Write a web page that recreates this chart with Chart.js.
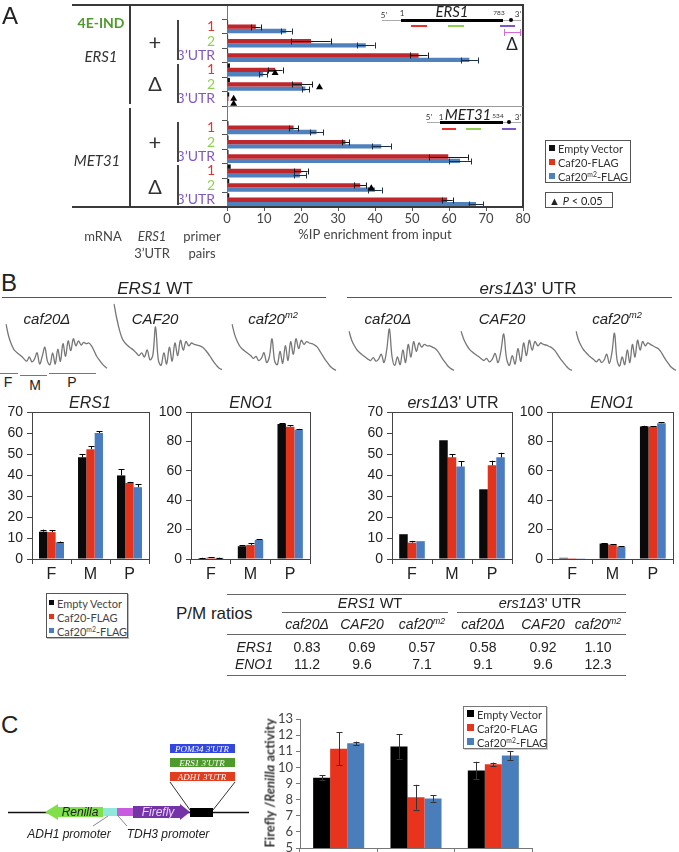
<!DOCTYPE html>
<html>
<head>
<meta charset="utf-8">
<script src="https://cdn.jsdelivr.net/npm/chart.js@4.4.1/dist/chart.umd.min.js"></script>
<style>
body { margin: 0; background: #fff; }
#page { position: relative; width: 679px; height: 852px; overflow: hidden; font-family: 'Liberation Sans', Arial, sans-serif; color: #222; }
#page canvas { position: absolute; }
.lbl { position: absolute; white-space: nowrap; line-height: 1; }
.ln { position: absolute; box-sizing: border-box; }
sup { font-size: 0.62em; line-height: 0; vertical-align: 0.55em; }
</style>
</head>
<body>
<div id="page"></div>
<script>
// ---- Panel A : %IP enrichment (horizontal bars) ----
const rowLabelsA = ['', '1', '2', '3’UTR', '1', '2', '3’UTR', '', '1', '2', '3’UTR', '1', '2', '3’UTR'];
const emptyVecA = [null, 0.3, 0.3, 0.3, 0.8, 0.8, 0.6, null, 0.4, 0.4, 0.4, 1.0, 0.6, 0.6];
const caf20A = [null, 7.8, 22.7, 51.8, 13.0, 20.3, 0.4, null, 18.0, 32.0, 59.8, 20.0, 36.0, 59.5];
const caf20ErrA = [null, 1.3, 5.3, 2.4, 2.0, 2.7, 0, null, 1.3, 1.0, 5.3, 1.8, 1.7, 1.5];
const caf20m2A = [null, 16.0, 37.5, 65.5, 9.8, 21.2, 0.3, null, 24.2, 41.7, 63.0, 19.7, 40.0, 67.3];
const caf20m2ErrA = [null, 1.5, 2.4, 2.3, 1.1, 1.0, 0, null, 1.8, 2.6, 3.0, 1.7, 1.8, 2.0];
const sigRowsA = [4, 5, 6, 6, 12];      // P < 0.05 markers
const sigValuesA = [13, 25, 1.8, 1.8, 39];
const seriesNames = ['Empty Vector', 'Caf20-FLAG', 'Caf20m2-FLAG'];

// ---- Panel B : polysome fractions ----
const fractionsB = ['F', 'M', 'P'];
const wtErs1Empty = [13.0, 48.4, 39.8], wtErs1EmptyErr = [1.0, 1.6, 3.0];
const wtErs1Caf20 = [12.8, 52.3, 36.2], wtErs1Caf20Err = [1.0, 1.5, 0.5];
const wtErs1M2 = [8.0, 60.0, 34.2], wtErs1M2Err = [0.3, 0.9, 1.3];
const wtEno1Empty = [0.6, 8.7, 91.8], wtEno1EmptyErr = [0.2, 0.5, 0.4];
const wtEno1Caf20 = [1.0, 9.6, 90.0], wtEno1Caf20Err = [0.3, 1.3, 1.0];
const wtEno1M2 = [0.8, 13.0, 88.0], wtEno1M2Err = [0.2, 0.5, 0.5];
const delErs1Empty = [11.8, 56.5, 33.2], delErs1EmptyErr = [0, 0, 0];
const delErs1Caf20 = [7.8, 48.4, 44.6], delErs1Caf20Err = [0.8, 1.4, 2.2];
const delErs1M2 = [8.5, 44.0, 48.4], delErs1M2Err = [0, 2.5, 2.2];
const delEno1Empty = [0.8, 10.5, 90.1], delEno1EmptyErr = [0, 0.4, 0.5];
const delEno1Caf20 = [0.6, 9.8, 90.1], delEno1Caf20Err = [0, 0.3, 0.4];
const delEno1M2 = [0.5, 8.3, 92.4], delEno1M2Err = [0, 0.3, 0.5];

// polysome traces (absorbance, arbitrary 0-100)
const traceWtCaf20d = [67, 50, 39, 31, 27, 24, 21, 17, 14, 20, 13, 17, 26, 10, 21, 34, 14, 9, 26, 10, 31, 14, 39, 21, 43, 29, 46, 36, 43, 37, 41, 39, 40, 36, 29, 21, 16, 11, 7, 4];
const traceWtCaf20 = [96, 75, 58, 46, 40, 36, 33, 30, 26, 22, 26, 20, 30, 16, 22, 63, 16, 8, 26, 10, 34, 14, 40, 22, 44, 30, 42, 36, 40, 38, 37, 36, 34, 30, 25, 19, 13, 8, 4, 2];
const traceWtCaf20m2 = [67, 52, 42, 35, 31, 28, 25, 22, 18, 21, 15, 18, 26, 12, 20, 46, 14, 9, 28, 11, 36, 15, 42, 24, 46, 32, 44, 38, 42, 40, 39, 37, 34, 28, 22, 16, 11, 6, 3, 1];
const traceDelCaf20d = [57, 44, 36, 30, 26, 23, 20, 17, 15, 19, 14, 17, 24, 12, 30, 60, 20, 8, 20, 9, 30, 12, 38, 20, 42, 28, 40, 34, 38, 36, 36, 34, 32, 28, 22, 16, 11, 6, 3, 1];
const traceDelCaf20 = [57, 45, 37, 31, 27, 24, 21, 18, 15, 18, 13, 17, 25, 12, 28, 53, 18, 8, 22, 10, 32, 14, 40, 22, 44, 30, 42, 36, 40, 38, 37, 35, 33, 29, 23, 17, 12, 7, 3, 1];
const traceDelCaf20m2 = [57, 44, 36, 30, 26, 22, 19, 16, 13, 17, 12, 16, 24, 11, 26, 54, 16, 7, 20, 9, 30, 12, 38, 20, 44, 30, 42, 36, 40, 38, 36, 34, 32, 28, 22, 16, 11, 6, 3, 1];

// P/M ratio table
const tableStrains = ['caf20Δ', 'CAF20', 'caf20m2', 'caf20Δ', 'CAF20', 'caf20m2'];
const ratioErs1 = ['0.83', '0.69', '0.57', '0.58', '0.92', '1.10'];
const ratioEno1 = ['11.2', '9.6', '7.1', '9.1', '9.6', '12.3'];

// ---- Panel C : luciferase reporter ----
const reportersC = ['', '', ''];
const emptyC = [9.35, 11.3, 9.8], emptyErrC = [0.15, 0.76, 0.55];
const caf20C = [11.16, 8.15, 10.2], caf20ErrC = [1.03, 0.77, 0.1];
const caf20m2C = [11.5, 8.07, 10.73], caf20m2ErrC = [0.1, 0.2, 0.27];

const page = document.getElementById('page');

function makeCanvas(left, top, w, h) {
    const c = document.createElement('canvas');
    c.width = w; c.height = h;
    c.style.left = left + 'px'; c.style.top = top + 'px';
    c.style.width = w + 'px'; c.style.height = h + 'px';
    page.appendChild(c);
    return c;
}

function txt(html, x, y, css, align, rot) {
    const d = document.createElement('div');
    d.className = 'lbl';
    d.innerHTML = html;
    d.style.cssText = css || '';
    d.style.left = x + 'px';
    d.style.top = y + 'px';
    const tx = align === 'l' ? '0' : align === 'r' ? '-100%' : '-50%';
    d.style.transform = 'translate(' + tx + ',-50%)' + (rot ? ' rotate(' + rot + 'deg)' : '');
    page.appendChild(d);
    return d;
}

function box(x, y, w, h, css) {
    const d = document.createElement('div');
    d.className = 'ln';
    d.style.cssText = 'left:' + x + 'px;top:' + y + 'px;width:' + w + 'px;height:' + h + 'px;' + (css || '');
    page.appendChild(d);
    return d;
}

const sup = (s) => s.replace('m2', '<sup>m2</sup>');

// error bars drawn from the value scale
const errorBars = {
    id: 'errorBars',
    afterDatasetsDraw(chart) {
        const ctx = chart.ctx;
        const horizontal = chart.options.indexAxis === 'y';
        const vScale = horizontal ? chart.scales.x : chart.scales.y;
        chart.data.datasets.forEach((ds, di) => {
            if (!ds.errors) return;
            const meta = chart.getDatasetMeta(di);
            meta.data.forEach((bar, i) => {
                const v = ds.data[i], e = ds.errors[i];
                if (v == null || !e) return;
                const hi = vScale.getPixelForValue(v + e);
                const lo = vScale.getPixelForValue(ds.upOnly ? v : v - e);
                const cap = ds.cap || 3;
                ctx.save();
                ctx.strokeStyle = ds.errorColor || '#111';
                ctx.lineWidth = 1;
                ctx.beginPath();
                if (horizontal) {
                    const y = Math.round(bar.y) + 0.5;
                    ctx.moveTo(lo, y); ctx.lineTo(hi, y);
                    ctx.moveTo(Math.round(hi) + 0.5, y - cap); ctx.lineTo(Math.round(hi) + 0.5, y + cap);
                    if (!ds.upOnly) { ctx.moveTo(Math.round(lo) + 0.5, y - cap); ctx.lineTo(Math.round(lo) + 0.5, y + cap); }
                } else {
                    const x = Math.round(bar.x) + 0.5;
                    ctx.moveTo(x, lo); ctx.lineTo(x, hi);
                    ctx.moveTo(x - cap, Math.round(hi) + 0.5); ctx.lineTo(x + cap, Math.round(hi) + 0.5);
                    if (!ds.upOnly) { ctx.moveTo(x - cap, Math.round(lo) + 0.5); ctx.lineTo(x + cap, Math.round(lo) + 0.5); }
                }
                ctx.stroke();
                ctx.restore();
            });
        });
    }
};

const boxFrame = {
    id: 'boxFrame',
    afterDraw(chart) {
        const a = chart.chartArea, ctx = chart.ctx;
        ctx.save();
        ctx.strokeStyle = '#444';
        ctx.lineWidth = 1;
        ctx.strokeRect(Math.round(a.left) + 0.5, Math.round(a.top) + 0.5, Math.round(a.right - a.left), Math.round(a.bottom - a.top));
        ctx.restore();
    }
};

const panelAFrame = {
    id: 'panelAFrame',
    afterDraw(chart) {
        const {ctx, chartArea: a, scales: {x, y}} = chart;
        ctx.save();
        ctx.strokeStyle = '#3a3a3a';
        ctx.lineWidth = 2;
        ctx.beginPath();
        ctx.moveTo(72, a.top); ctx.lineTo(a.right, a.top); ctx.lineTo(a.right, a.bottom); ctx.lineTo(72, a.bottom);
        ctx.moveTo(130, a.top); ctx.lineTo(130, 104);
        ctx.moveTo(130, 108); ctx.lineTo(130, a.bottom);
        ctx.stroke();
        ctx.strokeStyle = '#9a9a9a';
        ctx.lineWidth = 1;
        const yd = Math.round(y.getPixelForValue(6.5)) + 0.5;
        ctx.beginPath(); ctx.moveTo(a.left, yd); ctx.lineTo(a.right, yd); ctx.stroke();
        // significance triangles
        ctx.fillStyle = '#000';
        const seen = {};
        sigRowsA.forEach((r, i) => {
            const k = seen[r] = (seen[r] === undefined ? 0 : seen[r] + 1);
            const dup = sigRowsA.filter(q => q === r).length > 1;
            const cx = x.getPixelForValue(sigValuesA[i]);
            const cy = y.getPixelForValue(r) + (dup ? -1 + k * 5 : 2);
            ctx.beginPath();
            ctx.moveTo(cx, cy - 3); ctx.lineTo(cx + 3.5, cy + 3); ctx.lineTo(cx - 3.5, cy + 3);
            ctx.closePath(); ctx.fill();
        });
        ctx.restore();
    }
};

const rowColorA = { '1': '#e8322e', '2': '#8fd14f', '3’UTR': '#7e57c9' };

// ---------- Panel A chart ----------
new Chart(makeCanvas(0, 0, 679, 250), {
    type: 'bar',
    data: {
        labels: rowLabelsA,
        datasets: [
            { label: seriesNames[0], data: emptyVecA, backgroundColor: '#111' },
            { label: seriesNames[1], data: caf20A, errors: caf20ErrA, errorColor: '#1b1b1b', backgroundColor: '#c0272d' },
            { label: seriesNames[2], data: caf20m2A, errors: caf20m2ErrA, errorColor: '#1c2f4a', backgroundColor: '#4f81bd' }
        ]
    },
    options: {
        indexAxis: 'y',
        responsive: false,
        animation: false,
        layout: { padding: { left: 0, right: 156, top: 5, bottom: 7 } },
        plugins: { legend: { display: false }, tooltip: { enabled: false } },
        datasets: { bar: { categoryPercentage: 0.9, barPercentage: 1.0 } },
        scales: {
            x: {
                min: 0, max: 80,
                ticks: { stepSize: 10, autoSkip: false, maxRotation: 0, font: { family: 'Lato', size: 13 }, color: '#444', padding: 0 },
                grid: { drawOnChartArea: false, tickLength: 4, color: '#555' },
                border: { color: '#333' },
                title: { display: true, text: '%IP enrichment from input', font: { family: 'Lato', size: 13 }, color: '#444', padding: 0 },
                afterFit: (s) => { s.height = 36; s.paddingLeft = 0; s.paddingRight = 0; }
            },
            y: {
                ticks: { autoSkip: false, font: { family: 'Lato', size: 14 }, color: (c) => rowColorA[rowLabelsA[c.index]] || '#444', padding: 7 },
                grid: { offset: true, drawOnChartArea: false, tickLength: 5, color: '#555' },
                border: { color: '#777' },
                afterFit: (s) => { s.width = 227; s.paddingTop = 0; s.paddingBottom = 0; }
            }
        }
    },
    plugins: [errorBars, panelAFrame]
});

// ---------- Panel B traces ----------
function traceChart(left, width, values) {
    return new Chart(makeCanvas(left, 300, width, 72), {
        type: 'line',
        data: {
            labels: values.map((v, i) => i),
            datasets: [{ data: values, borderColor: '#777', borderWidth: 1.3, pointRadius: 0, tension: 0.35, fill: false }]
        },
        options: {
            responsive: false, animation: false,
            layout: { padding: 1 },
            plugins: { legend: { display: false }, tooltip: { enabled: false } },
            scales: { x: { display: false }, y: { display: false, min: 0, max: 100 } }
        }
    });
}
traceChart(5, 103, traceWtCaf20d);
traceChart(113, 110, traceWtCaf20);
traceChart(231, 106, traceWtCaf20m2);
traceChart(348, 107, traceDelCaf20d);
traceChart(460, 113, traceDelCaf20);
traceChart(575, 102, traceDelCaf20m2);

// ---------- Panel B fraction charts ----------
const colorsB = ['#0a0a0a', '#e2341d', '#4a7cc1'];
function fractionChart(left, width, axisW, rightPad, max, step, vals, errs) {
    return new Chart(makeCanvas(left, 395, width, 190), {
        type: 'bar',
        data: {
            labels: fractionsB,
            datasets: vals.map((v, k) => ({
                label: seriesNames[k], data: v, errors: errs[k], upOnly: true, cap: 3,
                errorColor: '#000', backgroundColor: colorsB[k]
            }))
        },
        options: {
            responsive: false, animation: false,
            layout: { padding: { left: 0, right: rightPad, top: 17, bottom: 0 } },
            plugins: { legend: { display: false }, tooltip: { enabled: false } },
            datasets: { bar: { categoryPercentage: 0.64, barPercentage: 1.0 } },
            scales: {
                x: {
                    ticks: { font: { family: 'Liberation Sans', size: 16 }, color: '#222', padding: 1 },
                    grid: { offset: true, drawOnChartArea: false, tickLength: 5, color: '#444' },
                    border: { color: '#444' },
                    afterFit: (s) => { s.height = 26; s.paddingLeft = 0; s.paddingRight = 0; }
                },
                y: {
                    min: 0, max: max,
                    ticks: { stepSize: step, autoSkip: false, font: { family: 'Liberation Sans', size: 14 }, color: '#222', padding: 4 },
                    grid: { drawOnChartArea: false, tickLength: 5, color: '#444' },
                    border: { color: '#444' },
                    afterFit: (s) => { s.width = axisW; s.paddingTop = 0; s.paddingBottom = 0; }
                }
            }
        },
        plugins: [errorBars, boxFrame]
    });
}
fractionChart(0, 155, 32, 6, 70, 10, [wtErs1Empty, wtErs1Caf20, wtErs1M2], [wtErs1EmptyErr, wtErs1Caf20Err, wtErs1M2Err]);
fractionChart(150, 165, 41, 5, 100, 20, [wtEno1Empty, wtEno1Caf20, wtEno1M2], [wtEno1EmptyErr, wtEno1Caf20Err, wtEno1M2Err]);
fractionChart(350, 167, 42, 5, 70, 10, [delErs1Empty, delErs1Caf20, delErs1M2], [delErs1EmptyErr, delErs1Caf20Err, delErs1M2Err]);
fractionChart(512, 167, 40, 6, 100, 20, [delEno1Empty, delEno1Caf20, delEno1M2], [delEno1EmptyErr, delEno1Caf20Err, delEno1M2Err]);

// ---------- Panel C chart ----------
const colorsC = ['#000', '#e8341c', '#4a7ebb'];
new Chart(makeCanvas(255, 700, 424, 170), {
    type: 'bar',
    data: {
        labels: reportersC,
        datasets: [
            { label: seriesNames[0], data: emptyC, errors: emptyErrC, cap: 3, errorColor: '#333', backgroundColor: colorsC[0] },
            { label: seriesNames[1], data: caf20C, errors: caf20ErrC, cap: 3, errorColor: '#333', backgroundColor: colorsC[1] },
            { label: seriesNames[2], data: caf20m2C, errors: caf20m2ErrC, cap: 3, errorColor: '#333', backgroundColor: colorsC[2] }
        ]
    },
    options: {
        responsive: false, animation: false,
        layout: { padding: { left: 0, right: 147, top: 19, bottom: 0 } },
        plugins: { legend: { display: false }, tooltip: { enabled: false } },
        datasets: { bar: { categoryPercentage: 0.66, barPercentage: 1.0 } },
        scales: {
            x: {
                ticks: { display: false },
                grid: { offset: true, drawOnChartArea: false, tickLength: 5, color: '#777' },
                border: { color: '#777' },
                afterFit: (s) => { s.height = 22; s.paddingLeft = 0; s.paddingRight = 0; }
            },
            y: {
                min: 5, max: 13,
                ticks: { stepSize: 1, autoSkip: false, font: { family: 'Lato', size: 13 }, color: '#444', padding: 3 },
                grid: { drawOnChartArea: false, tickLength: 4, color: '#777' },
                border: { color: '#777' },
                afterFit: (s) => { s.width = 45; s.paddingTop = 0; s.paddingBottom = 0; }
            }
        }
    },
    plugins: [errorBars]
});

// ---------- Panel A texts and decorations ----------
const xl = 'font-family:Lato,sans-serif;color:#444;';
txt('A', 2, 16, 'font-size:24px;', 'l');
txt('4E-IND', 101, 23, 'font-family:Lato;font-weight:bold;font-size:14px;color:#4f9a2c;');
txt('<i>ERS1</i>', 101, 56, 'font-family:Lato;font-size:15px;color:#333;');
txt('<i>MET31</i>', 97, 160, 'font-family:Lato;font-size:15px;color:#333;');
txt('+', 155, 42, 'font-family:Lato;font-size:22px;color:#333;');
txt('Δ', 155, 83, 'font-family:Lato;font-size:20px;color:#333;');
txt('+', 155, 142, 'font-family:Lato;font-size:22px;color:#333;');
txt('Δ', 155, 186, 'font-family:Lato;font-size:20px;color:#333;');
box(177, 20, 2, 40, 'background:#444;');
box(177, 64, 2, 39, 'background:#444;');
box(177, 122, 2, 40, 'background:#444;');
box(177, 165, 2, 40, 'background:#444;');
txt('mRNA', 103, 236, xl + 'font-size:13px;');
txt('<i>ERS1</i>', 152, 236, xl + 'font-size:13px;');
txt('3’UTR', 152, 253, xl + 'font-size:13px;');
txt('primer', 202, 236, xl + 'font-size:13px;');
txt('pairs', 202, 253, xl + 'font-size:13px;');

// ERS1 gene diagram
box(382, 20, 19, 1, 'background:#aaa;');
box(401, 19, 102, 3, 'background:#000;');
box(503, 20, 18, 1, 'background:#aaa;');
txt('5’', 384, 15, 'font-family:Lato;font-size:8px;color:#333;');
txt('1', 402, 13, 'font-family:Lato;font-size:8px;color:#333;');
txt('<i>ERS1</i>', 452, 11, 'font-family:Lato;font-size:15px;color:#222;');
txt('783', 499, 13, 'font-family:Lato;font-size:6.5px;color:#333;');
box(509, 18, 4, 4, 'background:#000;border-radius:50%;');
txt('3’', 518, 14, 'font-family:Lato;font-size:8px;color:#333;');
box(411, 25, 16, 2, 'background:#e8322e;');
box(448, 25, 16, 2, 'background:#8fd14f;');
box(500, 25, 15, 2, 'background:#7e57c9;');
box(504, 32, 17, 1, 'background:#d66ad6;');
box(504, 29, 1, 7, 'background:#d66ad6;');
box(520, 29, 1, 7, 'background:#d66ad6;');
txt('Δ', 512, 43, 'font-family:Lato;font-size:17px;color:#222;');

// MET31 gene diagram
box(427, 122, 13, 1, 'background:#aaa;');
box(440, 121, 63, 3, 'background:#000;');
box(503, 122, 18, 1, 'background:#aaa;');
txt('5’', 429, 117, 'font-family:Lato;font-size:8px;color:#333;');
txt('1', 441, 117, 'font-family:Lato;font-size:8px;color:#333;');
txt('<i>MET31</i>', 468, 114, 'font-family:Lato;font-size:15px;color:#222;');
txt('534', 498, 116, 'font-family:Lato;font-size:6.5px;color:#333;');
box(507, 120, 4, 4, 'background:#000;border-radius:50%;');
txt('3’', 518, 117, 'font-family:Lato;font-size:8px;color:#333;');
box(442, 128, 14, 2, 'background:#e8322e;');
box(466, 128, 15, 2, 'background:#8fd14f;');
box(502, 128, 14, 2, 'background:#7e57c9;');

// legend A
box(545, 140, 86, 43, 'border:1px solid #555;');
seriesNames.forEach((name, k) => {
    box(549, 145 + k * 14, 6, 6, 'background:' + ['#111', '#e2341d', '#4f81bd'][k] + ';');
    txt(sup(name), 558, 148 + k * 14, xl + 'font-size:11px;color:#333;', 'l');
});
box(545, 192, 68, 16, 'border:1px solid #555;');
txt('▲ <i>P</i> &lt; 0.05', 549, 200, xl + 'font-size:11px;color:#222;', 'l');

// ---------- Panel B texts ----------
txt('B', 1, 283, 'font-size:24px;', 'l');
txt('<i>ERS1</i> WT', 155, 288, 'font-size:17px;');
box(2, 297, 324, 1, 'background:#555;');
txt('<i>ers1Δ</i>3\' UTR', 528, 288, 'font-size:17px;');
box(347, 297, 325, 1, 'background:#555;');
const traceLabelX = [47, 155, 273, 388, 502, 617];
traceLabelX.forEach((x, i) => {
    txt('<i>' + sup(tableStrains[i]) + '</i>', x, 318, 'font-size:15px;');
});
box(0, 373, 18, 1, 'background:#777;');
box(20, 375, 27, 1, 'background:#777;');
box(49, 373, 47, 1, 'background:#777;');
txt('F', 8, 382, 'font-size:14px;');
txt('M', 35, 385, 'font-size:14px;');
txt('P', 72, 382, 'font-size:14px;');
txt('<i>ERS1</i>', 90, 403, 'font-size:16px;');
txt('<i>ENO1</i>', 251, 403, 'font-size:16px;');
txt('<i>ers1Δ</i>3\' UTR', 453, 403, 'font-size:16px;');
txt('<i>ENO1</i>', 612, 403, 'font-size:16px;');

// legend B
box(46, 593, 82, 45, 'border:1px solid #555;box-shadow:1px 1px 0 #bbb;');
seriesNames.forEach((name, k) => {
    box(49, 600 + k * 14, 5, 5, 'background:' + colorsB[k] + ';');
    txt(sup(name), 57, 603 + k * 14, xl + 'font-size:11px;', 'l');
});

// P/M table
txt('P/M ratios', 176, 613, 'font-size:17px;', 'l');
box(227, 594, 399, 1, 'background:#666;');
txt('<i>ERS1</i> WT', 370, 603, 'font-size:14.5px;');
txt('<i>ers1Δ</i>3\' UTR', 540, 603, 'font-size:14.5px;');
box(282, 612, 166, 1, 'background:#666;');
box(457, 612, 169, 1, 'background:#666;');
const colX = [307, 362, 422, 483, 543, 598];
colX.forEach((x, i) => {
    txt('<i>' + sup(tableStrains[i]) + '</i>', x, 624, 'font-size:14px;');
    txt(ratioErs1[i], x, 647, 'font-size:14px;');
    txt(ratioEno1[i], x, 664, 'font-size:14px;');
});
box(227, 634, 399, 1, 'background:#666;');
txt('<i>ERS1</i>', 273, 647, 'font-size:14px;', 'r');
txt('<i>ENO1</i>', 273, 664, 'font-size:14px;', 'r');
box(227, 675, 399, 1, 'background:#666;');

// ---------- Panel C texts and construct ----------
txt('C', 1, 725, 'font-size:24px;', 'l');
txt('<b>Firefly /<i>Renilla</i> activity</b>', 270, 783, 'font-family:Lato;font-size:13px;color:#333;', 'c', -90);
box(463, 706, 84, 43, 'border:1px solid #777;box-shadow:1px 1px 0 #ccc;');
seriesNames.forEach((name, k) => {
    box(467, 710 + k * 14, 7, 7, 'background:' + colorsC[k] + ';');
    txt(sup(name), 477, 714 + k * 14, 'font-family:Lato;font-size:11px;color:#333;', 'l');
});

page.insertAdjacentHTML('beforeend',
    '<svg width="679" height="852" style="position:absolute;left:0;top:0;pointer-events:none">' +
    '<line x1="8" y1="812.5" x2="249" y2="812.5" stroke="#111" stroke-width="1.5"/>' +
    '<polygon points="45,812 58,804 58,807 103,807 103,817 58,817 58,820" fill="#7fe04a"/>' +
    '<rect x="103" y="808" width="14" height="8" fill="#8fe8da"/>' +
    '<rect x="117" y="808" width="16" height="8" fill="#c95be0"/>' +
    '<polygon points="133,806 180,806 180,804 190,812 180,820 180,818 133,818" fill="#7434a6"/>' +
    '<rect x="190" y="808" width="23" height="9" fill="#000"/>' +
    '<rect x="170" y="744" width="65" height="9" fill="#3347e0"/>' +
    '<rect x="170" y="758" width="65" height="9" fill="#4f9a2c"/>' +
    '<rect x="170" y="772" width="65" height="9" fill="#e23d1f"/>' +
    '<line x1="170" y1="782" x2="190" y2="810" stroke="#333" stroke-width="1"/>' +
    '<line x1="235" y1="782" x2="213" y2="810" stroke="#333" stroke-width="1"/>' +
    '<line x1="108" y1="816" x2="93" y2="826" stroke="#888" stroke-width="1"/>' +
    '<line x1="118" y1="816" x2="127" y2="826" stroke="#888" stroke-width="1"/>' +
    '</svg>');
txt('<i>Renilla</i>', 80, 812, 'font-size:12px;color:#222;');
txt('<i>Firefly</i>', 158, 812, 'font-size:12px;color:#e8d0ff;');
txt('<i>POM34 3\'UTR</i>', 202, 748.5, 'font-family:\'Liberation Serif\',serif;font-size:9px;color:#fff;');
txt('<i>ERS1 3\'UTR</i>', 202, 762.5, 'font-family:\'Liberation Serif\',serif;font-size:9px;color:#fff;');
txt('<i>ADH1 3\'UTR</i>', 202, 776.5, 'font-family:\'Liberation Serif\',serif;font-size:9px;color:#fff;');
txt('<i>ADH1 promoter</i>', 69, 834, 'font-size:12px;color:#222;');
txt('<i>TDH3 promoter</i>', 168, 834, 'font-size:12px;color:#222;');
</script>
</body>
</html>
